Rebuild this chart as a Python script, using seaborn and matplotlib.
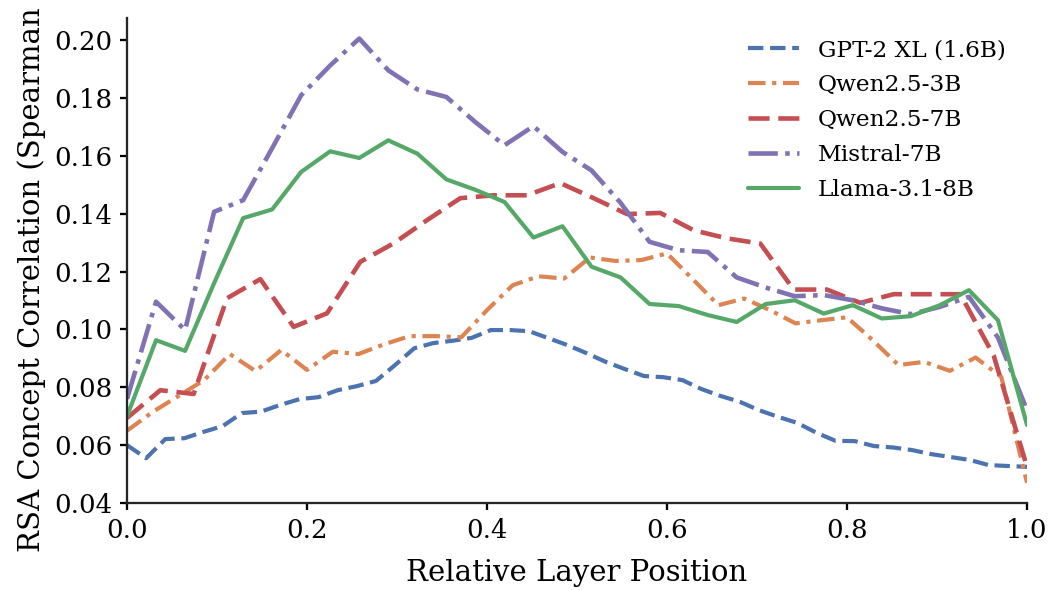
import matplotlib
matplotlib.use("Agg")
import matplotlib.pyplot as plt
import numpy as np
import seaborn as sns

# Per-layer RSA concept correlation (Spearman) for each model
gpt2_xl = [0.060, 0.0555, 0.0621, 0.0624, 0.0646, 0.0666, 0.0711, 0.0716, 0.0739, 0.0759,
           0.0766, 0.0790, 0.0804, 0.0822, 0.0877, 0.0935, 0.0953, 0.0961, 0.0971, 0.0998,
           0.0998, 0.0994, 0.0970, 0.0946, 0.0918, 0.0888, 0.0863, 0.0839, 0.0835, 0.0825,
           0.0794, 0.0770, 0.0750, 0.0721, 0.0698, 0.0677, 0.0643, 0.0615, 0.0614, 0.0597,
           0.0592, 0.0583, 0.0569, 0.0559, 0.0549, 0.0531, 0.0528, 0.0525]
qwen25_3b = [0.065, 0.0715, 0.0770, 0.0825, 0.0915, 0.0856, 0.0929, 0.0860, 0.0923, 0.0915,
             0.0949, 0.0977, 0.0977, 0.0973, 0.1067, 0.1153, 0.1184, 0.1176, 0.1249, 0.1237,
             0.1240, 0.1263, 0.1174, 0.1084, 0.1107, 0.1067, 0.1021, 0.1032, 0.1042, 0.0963,
             0.0877, 0.0888, 0.0857, 0.0903, 0.0836, 0.0470]
qwen25_7b = [0.0694, 0.0790, 0.0777, 0.1108, 0.1174, 0.1009, 0.1056, 0.1234, 0.1298, 0.1378,
             0.1454, 0.1464, 0.1464, 0.1506, 0.1454, 0.1399, 0.1403, 0.1343, 0.1315, 0.1297,
             0.1138, 0.1138, 0.1092, 0.1122, 0.1122, 0.1122, 0.0910, 0.0525]
mistral_7b = [0.0760, 0.1096, 0.0998, 0.1407, 0.1447, 0.1627, 0.1810, 0.1913, 0.2006, 0.1896,
              0.1830, 0.1804, 0.1717, 0.1637, 0.1703, 0.1614, 0.1550, 0.1438, 0.1303, 0.1274,
              0.1268, 0.1180, 0.1145, 0.1115, 0.1119, 0.1101, 0.1073, 0.1053, 0.1078, 0.1113,
              0.0972, 0.0721]
llama31_8b = [0.0700, 0.0963, 0.0926, 0.1160, 0.1385, 0.1415, 0.1545, 0.1616, 0.1593, 0.1654,
              0.1608, 0.1519, 0.1483, 0.1441, 0.1318, 0.1357, 0.1217, 0.1180, 0.1088, 0.1081,
              0.1050, 0.1026, 0.1088, 0.1101, 0.1055, 0.1084, 0.1038, 0.1046, 0.1084, 0.1136,
              0.1032, 0.0670]

model_names = ["GPT-2 XL (1.6B)", "Qwen2.5-3B", "Qwen2.5-7B", "Mistral-7B", "Llama-3.1-8B"]
model_scores = [gpt2_xl, qwen25_3b, qwen25_7b, mistral_7b, llama31_8b]

sns.set_theme(style="ticks", palette="deep")
plt.rcParams["font.family"] = ["DejaVu Serif"]
plt.rcParams["text.color"] = "black"
plt.rcParams["axes.labelcolor"] = "black"
plt.rcParams["xtick.color"] = "black"
plt.rcParams["ytick.color"] = "black"

deep = sns.color_palette("deep")
colors = [deep[0], deep[1], deep[3], deep[4], deep[2]]
styles = ["--", (0, (4.2, 1.6, 1, 1.6)), (0, (4.6, 1.9)), "-.", "-"]
widths = [2.0, 2.0, 2.2, 2.2, 2.0]

fig = plt.figure(figsize=(7, 590 / 150), dpi=150)
ax = fig.add_axes([127 / 1050, 87 / 590, 900 / 1050, 485 / 590])

for name, scores, c, ls, lw in zip(model_names, model_scores, colors, styles, widths):
    pos = np.linspace(0, 1, len(scores))
    sns.lineplot(x=pos, y=scores, ax=ax, color=c, linestyle=ls, linewidth=lw, label=name)

ax.set_xlim(0, 1)
ax.set_ylim(0.04, 0.2077)
ax.set_yticks(np.arange(0.04, 0.201, 0.02))
ax.set_xticks([0.0, 0.2, 0.4, 0.6, 0.8, 1.0])
ax.tick_params(labelsize=12.5, length=3.5, width=1.1)
for s in ax.spines.values():
    s.set_linewidth(1.1)
sns.despine(ax=ax)

ax.set_xlabel("Relative Layer Position", fontsize=14, labelpad=8)
ax.set_ylabel("RSA Concept Correlation (Spearman ρ)", fontsize=14)

ax.legend(loc="upper right", frameon=False, fontsize=11.2, handlelength=2.2,
          labelspacing=0.56)

fig.savefig("out.png", dpi=150)
